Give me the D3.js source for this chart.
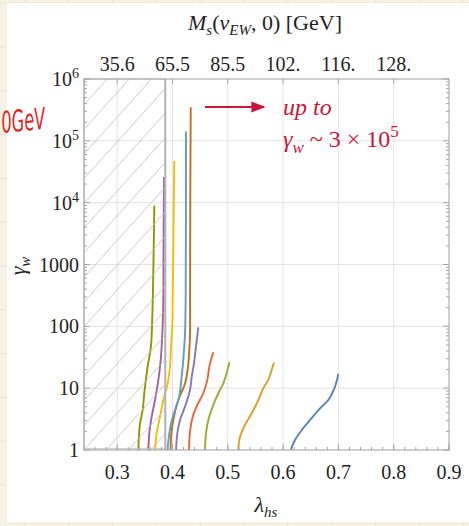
<!DOCTYPE html>
<html>
<head>
<meta charset="utf-8">
<script src="https://cdn.jsdelivr.net/npm/d3@7"></script>
<style>
  html, body { margin: 0; padding: 0; background: #f6f2e3; overflow: hidden; }
  svg { display: block; }
</style>
</head>
<body>
<svg id="chart" width="469" height="526"></svg>
<script>
// ---- data -------------------------------------------------------------
const xTicks = [0.3, 0.4, 0.5, 0.6, 0.7, 0.8, 0.9];
const topTickValues = [0.3, 0.4, 0.5, 0.6, 0.7, 0.8];
const topTickLabels = ["35.6", "65.5", "85.5", "102.", "116.", "128."];
const yTicks = [1, 10, 100, 1000, 1e4, 1e5, 1e6];
const yTickLabels = ["1", "10", "100", "1000", "10^4", "10^5", "10^6"];
const excludedEdge = 0.387;   // lambda_hs below this is shaded out

// gamma_w versus lambda_hs, one curve per benchmark: [lambda_hs, gamma_w]
const curveOlive = [[0.3382,1],[0.3413,2.7],[0.3461,4.4],[0.3490,8.3],[0.3550,22],[0.3610,47],[0.3635,144],[0.3660,1730],[0.3671,9000]];
const curvePink = [[0.3563,1],[0.3581,1.86],[0.3624,3.46],[0.3684,6.44],[0.3744,13.5],[0.3787,28.5],[0.3816,75],[0.3834,268],[0.3838,1700],[0.3847,26000]];
const curveYellow = [[0.3684,1],[0.3714,1.86],[0.3774,3.46],[0.3834,6.44],[0.3914,12],[0.3955,22.3],[0.3973,47],[0.3997,99],[0.4004,268],[0.4033,47500]];
const curveLightBlue = [[0.3910,1],[0.3935,1.64],[0.3975,2.7],[0.4045,4.43],[0.4123,7.3],[0.4154,12],[0.4184,22.3],[0.4208,40.4],[0.4226,73],[0.4238,268],[0.4244,141000]];
const curveDarkOrange = [[0.3965,1],[0.3980,1.86],[0.4027,3.46],[0.4105,6.44],[0.4226,11.8],[0.4286,24.5],[0.4304,40.4],[0.4317,75],[0.4318,268],[0.4322,11000],[0.4330,350000]];
const curvePurple = [[0.4064,1],[0.4087,1.86],[0.4136,3.06],[0.4226,5.02],[0.4317,9.36],[0.4348,15.3],[0.4389,25.3],[0.4425,47],[0.4467,96.6]];
const curveRed = [[0.4299,1],[0.4317,1.98],[0.4366,3.46],[0.4449,5.35],[0.4557,8.27],[0.4630,13.6],[0.4666,22.3],[0.4738,38.1]];
const curveGreen = [[0.4588,1],[0.4606,1.86],[0.4648,3.06],[0.4727,5.02],[0.4829,8.27],[0.4919,12],[0.4980,17.4],[0.5027,26.2]];
const curveOrange = [[0.5190,1],[0.5221,1.64],[0.5311,2.54],[0.5432,3.93],[0.5552,6.44],[0.5642,9.96],[0.5733,13.6],[0.5836,26.3]];
const curveBlue = [[0.6138,1],[0.6216,1.45],[0.6337,2.11],[0.6487,3.06],[0.6668,4.73],[0.6818,6.44],[0.6939,10.6],[0.6999,17]];

const curves = [curveBlue, curveOrange, curveGreen, curveRed, curvePurple,
                curveDarkOrange, curveLightBlue, curveYellow, curvePink, curveOlive];
const curveColors = ["#5e81b5", "#e19c24", "#8fb032", "#eb6235", "#8778b3",
                     "#c56e1a", "#5d9ec7", "#f5c000", "#a5609d", "#929600"];

// ---- layout -----------------------------------------------------------
const W = 469, H = 526;
const plot = { left: 84, right: 449, top: 79, bottom: 450 };
const serif = "'Liberation Serif', 'DejaVu Serif', serif";

const svg = d3.select("#chart");

// notebook-style page behind the white sheet
const pageGrid = svg.append("g");
pageGrid.append("rect").attr("width", W).attr("height", H).attr("fill", "#f6f2e3");
const gridStep = 43.8;
for (let gx = 25; gx < W; gx += gridStep) {
  pageGrid.append("line").attr("x1", gx).attr("x2", gx).attr("y1", 0).attr("y2", H)
    .attr("stroke", "#e6e1cf").attr("stroke-width", 1);
}
for (let gy = 3.2; gy < H; gy += gridStep) {
  pageGrid.append("line").attr("x1", 0).attr("x2", W).attr("y1", gy).attr("y2", gy)
    .attr("stroke", "#e6e1cf").attr("stroke-width", 1);
}
svg.append("rect").attr("x", 7).attr("y", 3).attr("width", W).attr("height", 519).attr("fill", "#ffffff");

// handwritten note at the left margin
svg.append("text")
  .attr("x", 1).attr("y", 131)
  .attr("font-family", "'DejaVu Sans', sans-serif").attr("font-style", "italic")
  .attr("font-weight", 300)
  .attr("font-size", 30).attr("fill", "#e3261f")
  .attr("textLength", 44).attr("lengthAdjust", "spacingAndGlyphs")
  .attr("transform", "rotate(-6, 22, 118)")
  .text("0GeV");

// ---- scales -------------------------------------------------------------
const x = d3.scaleLinear().domain([0.24, 0.9]).range([plot.left, plot.right]);
const y = d3.scaleLog().domain([1, 1e6]).range([plot.bottom, plot.top]);

const defs = svg.append("defs");
defs.append("clipPath").attr("id", "plotClip")
  .append("rect").attr("x", plot.left).attr("y", plot.top)
  .attr("width", plot.right - plot.left).attr("height", plot.bottom - plot.top);

const hatch = defs.append("pattern").attr("id", "hatch")
  .attr("patternUnits", "userSpaceOnUse").attr("width", 16.5).attr("height", 16.5)
  .attr("patternTransform", "rotate(42)");
hatch.append("line").attr("x1", 0).attr("y1", 0).attr("x2", 0).attr("y2", 16.5)
  .attr("stroke", "#c2c2c2").attr("stroke-width", 1.3);

// ---- grid -------------------------------------------------------------
const grid = svg.append("g");
grid.selectAll("line.vx").data(xTicks.filter(v => v < 0.9)).join("line")
  .attr("x1", d => x(d)).attr("x2", d => x(d))
  .attr("y1", plot.top).attr("y2", plot.bottom)
  .attr("stroke", "#e3e3e3").attr("stroke-width", 1);
grid.selectAll("line.hy").data(yTicks.filter(v => v > 1 && v < 1e6)).join("line")
  .attr("x1", plot.left).attr("x2", plot.right)
  .attr("y1", d => y(d)).attr("y2", d => y(d))
  .attr("stroke", "#e3e3e3").attr("stroke-width", 1);

// ---- curves -----------------------------------------------------------
const line = d3.line()
  .x(d => x(d[0])).y(d => y(d[1]))
  .curve(d3.curveCatmullRom.alpha(0.5));

svg.append("g").attr("clip-path", "url(#plotClip)")
  .selectAll("path").data(curves).join("path")
  .attr("d", line)
  .attr("fill", "none")
  .attr("stroke", (d, i) => curveColors[i])
  .attr("stroke-width", 1.9)
  .attr("stroke-linejoin", "round");

// excluded region, hatched on top of the curves
svg.append("rect")
  .attr("x", x(0.24)).attr("y", y(1e6))
  .attr("width", x(excludedEdge) - x(0.24))
  .attr("height", y(1.05) - y(1e6))
  .attr("fill", "url(#hatch)")
  .attr("stroke", "#c4c4c4").attr("stroke-width", 1);
svg.append("line")
  .attr("x1", x(excludedEdge)).attr("x2", x(excludedEdge))
  .attr("y1", plot.top).attr("y2", plot.bottom)
  .attr("stroke", "#b3b3b3").attr("stroke-width", 2);

// ---- frame and ticks --------------------------------------------------
const frame = svg.append("g");
frame.append("rect")
  .attr("x", plot.left).attr("y", plot.top)
  .attr("width", plot.right - plot.left).attr("height", plot.bottom - plot.top)
  .attr("fill", "none").attr("stroke", "#a6a6a6").attr("stroke-width", 1.1);

const tickColor = "#a6a6a6";
// bottom: major every 0.1, minor every 0.02
const xMinor = d3.range(0.24, 0.9001, 0.02);
frame.selectAll("line.bmin").data(xMinor).join("line")
  .attr("x1", d => x(d)).attr("x2", d => x(d))
  .attr("y1", plot.bottom).attr("y2", plot.bottom - 3)
  .attr("stroke", tickColor);
frame.selectAll("line.bmaj").data(xTicks).join("line")
  .attr("x1", d => x(d)).attr("x2", d => x(d))
  .attr("y1", plot.bottom).attr("y2", plot.bottom - 6)
  .attr("stroke", tickColor);
// top: one tick per mass label
frame.selectAll("line.tmaj").data(topTickValues).join("line")
  .attr("x1", d => x(d)).attr("x2", d => x(d))
  .attr("y1", plot.top).attr("y2", plot.top + 5)
  .attr("stroke", tickColor);

// left and right: logarithmic ticks
const yMinor = [];
for (let e = 0; e < 6; e++) for (let k = 2; k <= 9; k++) yMinor.push(k * Math.pow(10, e));
[[plot.left, 1], [plot.right, -1]].forEach(([x0, dir]) => {
  frame.selectAll(null).data(yMinor).join("line")
    .attr("x1", x0).attr("x2", x0 + dir * 3)
    .attr("y1", d => y(d)).attr("y2", d => y(d))
    .attr("stroke", tickColor);
  frame.selectAll(null).data(yTicks).join("line")
    .attr("x1", x0).attr("x2", x0 + dir * 6)
    .attr("y1", d => y(d)).attr("y2", d => y(d))
    .attr("stroke", tickColor);
});

// ---- labels -----------------------------------------------------------
const textColor = "#1f1f1f";
const labels = svg.append("g").attr("font-family", serif).attr("fill", textColor);

labels.selectAll("text.xl").data(xTicks).join("text")
  .attr("x", d => x(d)).attr("y", 479)
  .attr("text-anchor", "middle").attr("font-size", 20)
  .text(d => d3.format(".1f")(d));

labels.selectAll("text.tl").data(topTickValues).join("text")
  .attr("x", d => x(d)).attr("y", 71)
  .attr("text-anchor", "middle").attr("font-size", 20)
  .text((d, i) => topTickLabels[i]);

labels.selectAll("text.yl").data(yTicks).join("text")
  .attr("x", 79).attr("y", d => y(d) + 7)
  .attr("text-anchor", "end").attr("font-size", 20)
  .each(function (d, i) {
    const t = d3.select(this);
    const lab = yTickLabels[i];
    if (lab.includes("^")) {
      const [base, exp] = lab.split("^");
      t.append("tspan").text(base);
      t.append("tspan").attr("dy", -8).attr("font-size", 14).text(exp);
    } else {
      t.text(lab);
    }
  });

// axis titles
const xTitle = labels.append("text").attr("x", 266).attr("y", 512)
  .attr("text-anchor", "middle").attr("font-size", 22);
xTitle.append("tspan").attr("font-style", "italic").text("λ");
xTitle.append("tspan").attr("font-style", "italic").attr("font-size", 15).attr("dy", 5).text("hs");

const yTitle = labels.append("text")
  .attr("transform", "translate(25,266) rotate(-90)")
  .attr("text-anchor", "middle").attr("font-size", 22);
yTitle.append("tspan").attr("font-style", "italic").text("γ");
yTitle.append("tspan").attr("font-style", "italic").attr("font-size", 15).attr("dy", 5).text("w");

const topTitle = labels.append("text").attr("x", 265).attr("y", 30)
  .attr("text-anchor", "middle").attr("font-size", 22);
topTitle.append("tspan").attr("font-style", "italic").text("M");
topTitle.append("tspan").attr("font-style", "italic").attr("font-size", 15).attr("dy", 5).text("s");
topTitle.append("tspan").attr("dy", -5).text("(");
topTitle.append("tspan").attr("font-style", "italic").text("v");
topTitle.append("tspan").attr("font-style", "italic").attr("font-size", 15).attr("dy", 5).text("EW");
topTitle.append("tspan").attr("dy", -5).text(", 0)  [GeV]");

// ---- annotation ------------------------------------------------------
const noteColor = "#c8173a";
const noteY = 107;
defs.append("marker").attr("id", "arrowHead")
  .attr("viewBox", "0 0 10 10").attr("refX", 9).attr("refY", 5)
  .attr("markerWidth", 7).attr("markerHeight", 7).attr("orient", "auto")
  .append("path").attr("d", "M0,1 L10,5 L0,9 z").attr("fill", noteColor);
svg.append("line")
  .attr("x1", 205).attr("x2", 264).attr("y1", noteY).attr("y2", noteY)
  .attr("stroke", noteColor).attr("stroke-width", 2)
  .attr("marker-end", "url(#arrowHead)");

const note = svg.append("g").attr("font-family", serif).attr("fill", noteColor);
note.append("text").attr("x", 283).attr("y", 115)
  .attr("font-size", 24).attr("font-style", "italic").text("up to");
const note2 = note.append("text").attr("x", 283).attr("y", 147).attr("font-size", 24);
note2.append("tspan").attr("font-style", "italic").text("γ");
note2.append("tspan").attr("font-style", "italic").attr("font-size", 17).attr("dy", 6).text("w");
note2.append("tspan").attr("dy", -6).text(" ~ 3 × 10");
note2.append("tspan").attr("dy", -10).attr("font-size", 17).text("5");
</script>
</body>
</html>
